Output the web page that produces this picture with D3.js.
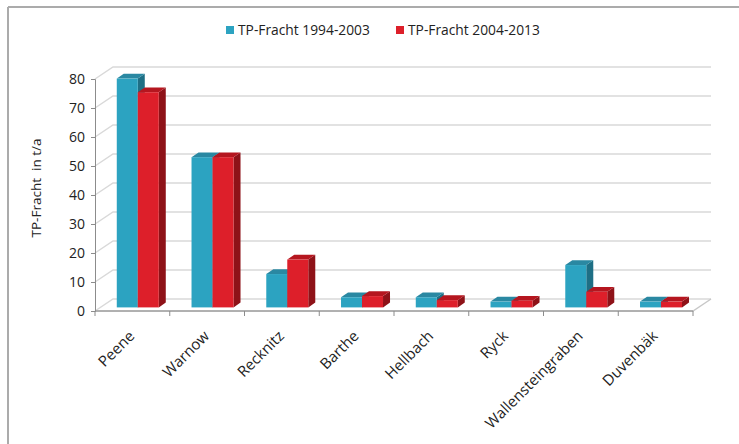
<!DOCTYPE html>
<html>
<head>
<meta charset="utf-8">
<script src="https://cdn.jsdelivr.net/npm/d3@7"></script>
<style>
  html, body { margin: 0; padding: 0; background: #fff; }
  svg { display: block; font-family: "Open Sans", sans-serif; }
</style>
</head>
<body>
<svg id="chart" width="739" height="444"></svg>
<script>
// Gewässer (Kategorien) und mittlere TP-Frachten in t/a
const categories = ["Peene", "Warnow", "Recknitz", "Barthe", "Hellbach", "Ryck", "Wallensteingraben", "Duvenbäk"];
const fracht1994_2003 = [78.9, 51.8, 11.5, 3.5, 3.5, 2.0, 14.6, 2.0];
const fracht2004_2013 = [74.2, 51.8, 16.5, 3.9, 2.5, 2.3, 5.4, 2.0];
const seriesNames = ["TP-Fracht 1994-2003", "TP-Fracht 2004-2013"];
const yTicks = [0, 10, 20, 30, 40, 50, 60, 70, 80];

const seriesValues = [fracht1994_2003, fracht2004_2013];
const palette = [
  { front: "#2ca3c1", top: "#2a88a2", side: "#1e6f85" },
  { front: "#dd1f2a", top: "#b5161f", side: "#8e1218" }
];

const svg = d3.select("#chart");

// Rahmen (oben und links)
svg.append("line").attr("x1", 8).attr("x2", 739).attr("y1", 7).attr("y2", 7)
  .attr("stroke", "#ababab").attr("stroke-width", 2);
svg.append("line").attr("x1", 8).attr("x2", 8).attr("y1", 7).attr("y2", 444)
  .attr("stroke", "#ababab").attr("stroke-width", 2);

// Pseudo-3D-Geometrie
const plot = { left: 95, right: 693, bottom: 311, top: 79 };
const depth = { dx: 18, dy: -12 };
const barDepth = { dx: 7, dy: -4.8 };
const barShift = { dx: 5.4, dy: -3.6 };

const x = d3.scaleBand().domain(categories).range([plot.left, plot.right]);
const y = d3.scaleLinear().domain([0, 80]).range([plot.bottom, plot.top]);
const xs = d3.scaleBand().domain([0, 1]).range([0, 42]);

// Gitterlinien: Rückwand und linke Seitenwand
const grid = svg.append("g").attr("stroke", "#d9d9d9").attr("stroke-width", 1.5).attr("fill", "none");
yTicks.forEach(t => {
  const yy = y(t);
  grid.append("path")
    .attr("d", `M${plot.left},${yy} L${plot.left + depth.dx},${yy + depth.dy} L${plot.right + depth.dx},${yy + depth.dy}`);
});

// Boden
svg.append("path")
  .attr("d", `M${plot.left},${plot.bottom} L${plot.right},${plot.bottom} L${plot.right + depth.dx},${plot.bottom + depth.dy}`)
  .attr("fill", "none").attr("stroke", "#c8c8c8").attr("stroke-width", 1.5);

// Balken
const bars = svg.append("g");
categories.forEach((c, i) => {
  const groupX = x(c) + x.bandwidth() / 2 - 21 + barShift.dx;
  [0, 1].forEach(s => {
    const v = seriesValues[s][i];
    const x0 = groupX + xs(s);
    const x1 = x0 + xs.bandwidth();
    const yb = y(0) + barShift.dy;
    const yt = y(v) + barShift.dy;
    const col = palette[s];
    const g = bars.append("g");
    g.append("path")
      .attr("d", `M${x1},${yt} L${x1 + barDepth.dx},${yt + barDepth.dy} L${x1 + barDepth.dx},${yb + barDepth.dy} L${x1},${yb} Z`)
      .attr("fill", col.side);
    g.append("path")
      .attr("d", `M${x0},${yt} L${x0 + barDepth.dx},${yt + barDepth.dy} L${x1 + barDepth.dx},${yt + barDepth.dy} L${x1},${yt} Z`)
      .attr("fill", col.top);
    g.append("rect")
      .attr("x", x0).attr("y", yt).attr("width", x1 - x0).attr("height", yb - yt)
      .attr("fill", col.front);
  });
});

// Y-Achse
const yAxis = svg.append("g")
  .attr("transform", `translate(${plot.left},0)`)
  .call(d3.axisLeft(y).tickValues(yTicks).tickSize(4).tickPadding(6));
yAxis.select(".domain").attr("stroke", "#8c8c8c");
yAxis.selectAll(".tick line").attr("stroke", "#8c8c8c");
yAxis.selectAll(".tick text").attr("font-size", 14).attr("fill", "#222")
  .attr("font-family", "Open Sans, sans-serif");

// X-Achse mit Strichen an den Kategoriegrenzen
const boundaries = categories.map(c => x(c)).concat([plot.right]);
const xAxis = svg.append("g");
xAxis.append("line").attr("x1", plot.left).attr("x2", plot.right)
  .attr("y1", plot.bottom).attr("y2", plot.bottom).attr("stroke", "#8c8c8c");
xAxis.selectAll("line.tick").data(boundaries).join("line").attr("class", "tick")
  .attr("x1", d => d).attr("x2", d => d)
  .attr("y1", plot.bottom).attr("y2", plot.bottom + 5).attr("stroke", "#8c8c8c");
xAxis.selectAll("text").data(categories).join("text")
  .attr("transform", c => `translate(${x(c) + x.bandwidth() / 2 + 3},${plot.bottom + 26}) rotate(-45)`)
  .attr("text-anchor", "end")
  .attr("font-size", 15).attr("fill", "#222")
  .text(c => c);

// Achsentitel
svg.append("text")
  .attr("transform", `translate(41,188) rotate(-90)`)
  .attr("text-anchor", "middle")
  .attr("font-size", 13.5).attr("fill", "#222")
  .attr("xml:space", "preserve")
  .text("TP-Fracht  in t/a");

// Legende
const legend = svg.append("g").attr("font-size", 13.8).attr("fill", "#222");
const legendX = [226, 396];
seriesNames.forEach((name, i) => {
  legend.append("rect").attr("x", legendX[i]).attr("y", 26).attr("width", 8).attr("height", 8)
    .attr("fill", palette[i].front);
  legend.append("text").attr("x", legendX[i] + 12).attr("y", 35).text(name);
});
</script>
</body>
</html>
